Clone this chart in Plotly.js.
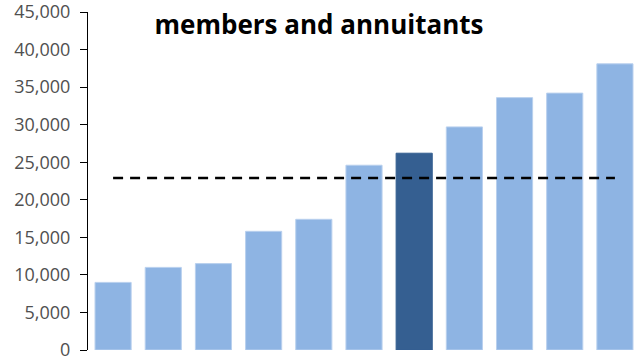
<!DOCTYPE html>
<html>
<head>
<meta charset="utf-8">
<script src="https://cdn.plot.ly/plotly-3.0.1.min.js"></script>
<style>html,body{margin:0;padding:0;background:#fff;}#chart{width:636px;height:360px;}</style>
</head>
<body>
<div id="chart"></div>
<script>
const categories = ['A','B','C','D','E','F','G','H','I','J','K'];
const values = [9000, 11000, 11500, 15800, 17400, 24600, 26200, 29700, 33600, 34200, 38100];
const highlightIndex = 6;
const averageValue = 22900;
const yTicks = [0, 5000, 10000, 15000, 20000, 25000, 30000, 35000, 40000, 45000];
const titleText = 'members and annuitants';

const colors = values.map((v, i) => i === highlightIndex ? '#355F91' : '#8EB4E3');
const lineColors = values.map((v, i) => i === highlightIndex ? '#355F91' : '#B9D0EE');

const traces = [
  {
    type: 'bar',
    x: categories,
    y: values,
    marker: {color: colors, line: {color: lineColors, width: 1}},
    hoverinfo: 'skip'
  },
  {
    type: 'scatter',
    mode: 'lines',
    x: [categories[0], categories[categories.length - 1]],
    y: [averageValue, averageValue],
    line: {color: '#000000', width: 2.5, dash: '10px,7px'},
    hoverinfo: 'skip'
  }
];

const layout = {
  width: 636,
  height: 360,
  margin: {l: 88, r: 0, t: 12, b: 10, pad: 0},
  paper_bgcolor: '#ffffff',
  plot_bgcolor: '#ffffff',
  showlegend: false,
  bargap: 0.28,
  title: {
    text: '<b>' + titleText + '</b>',
    x: 0.5016, xanchor: 'center', xref: 'container',
    y: 0.93, yanchor: 'middle',
    font: {family: 'Open Sans, sans-serif', size: 26, color: '#000000'}
  },
  xaxis: {
    type: 'category',
    range: [-0.5, 10.42],
    showticklabels: false,
    showline: false,
    showgrid: false,
    zeroline: false,
    ticks: ''
  },
  yaxis: {
    range: [0, 45000],
    tickvals: yTicks,
    ticktext: yTicks.map(v => v.toLocaleString('en-US')),
    showgrid: false,
    zeroline: false,
    showline: true,
    linecolor: '#000000',
    linewidth: 1,
    ticks: 'outside',
    ticklen: 7,
    tickwidth: 1,
    tickcolor: '#000000',
    ticklabeloverflow: 'allow',
    tickfont: {family: 'Open Sans, sans-serif', size: 18, color: '#505050'},
    ticklabelstandoff: 6
  }
};

Plotly.newPlot('chart', traces, layout, {displayModeBar: false, staticPlot: true});
</script>
</body>
</html>
